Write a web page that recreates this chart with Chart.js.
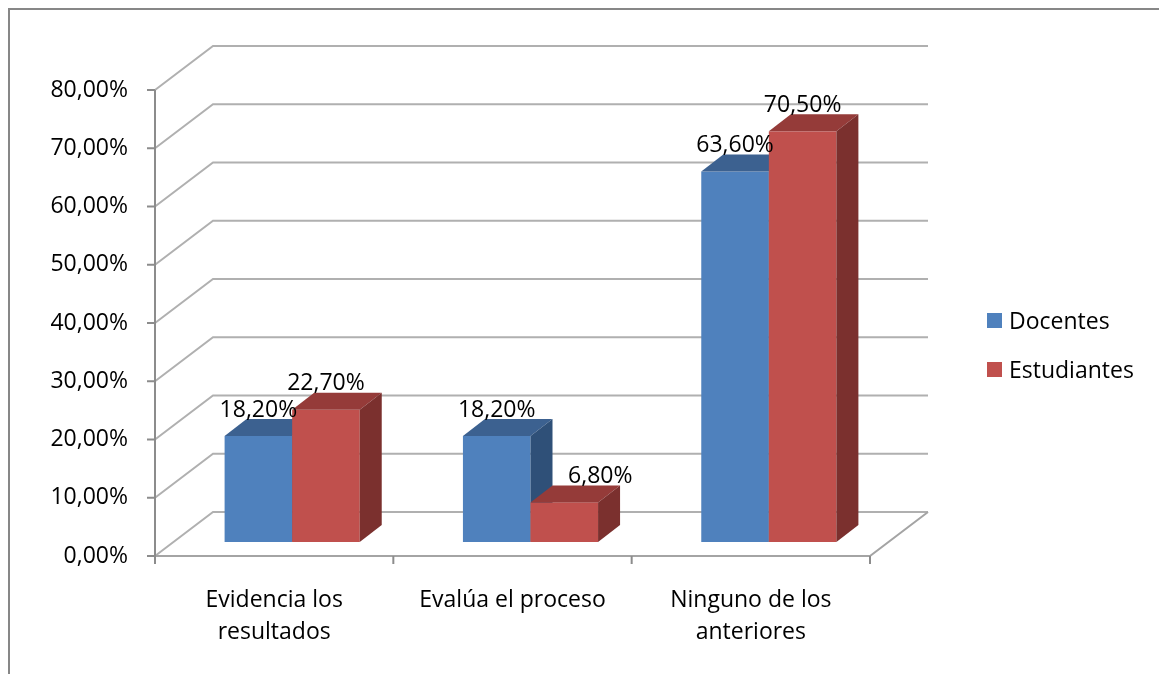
<!DOCTYPE html>
<html>
<head>
<meta charset="utf-8">
<script src="https://cdn.jsdelivr.net/npm/chart.js@4.4.1/dist/chart.umd.min.js"></script>
<style>
html, body { margin:0; padding:0; background:#fff; }
#wrap { position:relative; width:1159px; height:674px; overflow:hidden; }
#frame { position:absolute; left:8px; top:8px; width:1300px; height:800px; border-left:2px solid #878787; border-top:2px solid #878787; }
#chart { position:absolute; left:0; top:0; }
.leg { position:absolute; left:987px; height:32px; display:flex; align-items:center; font:23px "Open Sans"; color:#000; }
.leg span { display:inline-block; width:15px; height:15px; margin-right:7px; }
</style>
</head>
<body>
<div id="wrap">
	<div id="frame"></div>
	<canvas id="chart" width="1159" height="674"></canvas>
	<div id="legend"></div>
</div>
<script>
// datos del gráfico
var categorias = [ [ 'Evidencia los', 'resultados' ], 'Evalúa el proceso', [ 'Ninguno de los', 'anteriores' ] ];
var docentes = [ 18.2, 18.2, 63.6 ];
var estudiantes = [ 22.7, 6.8, 70.5 ];
var series = [ 'Docentes', 'Estudiantes' ];

// colores de las caras (frente, arriba, lado)
var caras = [
	{ front : '#4F81BD', top : '#3C6190', side : '#2F5078' },
	{ front : '#C0504D', top : '#953B39', side : '#7B302E' }
];

var WALL_DX = 58, WALL_DY = -44;   // fondo del gráfico 3D
var BAR_OFF_X = 18, BAR_OFF_Y = -14; // posición de las barras en profundidad
var BAR_DX = 22, BAR_DY = -17;     // profundidad de cada barra
var LABEL_SHIFT = [ [ 0, 0, 0 ], [ 0, 36, 0 ] ];

function fmt(v) {
	return v.toFixed(2).replace('.', ',') + '%';
}

var tresD = {
	id : 'tresD',
	beforeDatasetsDraw : function(chart) {
		var ctx = chart.ctx, a = chart.chartArea, ys = chart.scales.y;
		var y0 = ys.getPixelForValue(0);
		ctx.save();
		ctx.lineWidth = 2;
		ctx.strokeStyle = '#b0b0b0';
		ys.ticks.forEach(function(t) {
			var y = ys.getPixelForValue(t.value);
			ctx.beginPath();
			ctx.moveTo(a.left, y);
			ctx.lineTo(a.left + WALL_DX, y + WALL_DY);
			ctx.lineTo(a.right + WALL_DX, y + WALL_DY);
			ctx.stroke();
		});
		// piso
		ctx.strokeStyle = '#a4a4a4';
		ctx.beginPath();
		ctx.moveTo(a.left, y0);
		ctx.lineTo(a.right, y0);
		ctx.lineTo(a.right + WALL_DX, y0 + WALL_DY);
		ctx.stroke();
		// eje vertical y marcas
		ctx.strokeStyle = '#8c8c8c';
		ctx.beginPath();
		ctx.moveTo(a.left, a.top);
		ctx.lineTo(a.left, y0);
		ys.ticks.forEach(function(t) {
			var y = ys.getPixelForValue(t.value);
			ctx.moveTo(a.left - 8, y);
			ctx.lineTo(a.left, y);
		});
		var n = categorias.length;
		for (var i = 0; i <= n; i++) {
			var x = a.left + (a.right - a.left) * i / n;
			ctx.moveTo(x, y0);
			ctx.lineTo(x, y0 + 8);
		}
		ctx.stroke();
		ctx.restore();
	},
	beforeDatasetDraw : function() {
		return false;
	},
	afterDatasetsDraw : function(chart) {
		var ctx = chart.ctx;
		ctx.save();
		chart.data.datasets.forEach(function(ds, d) {
			var c = caras[d];
			chart.getDatasetMeta(d).data.forEach(function(el) {
				var x1 = el.x - el.width / 2 + BAR_OFF_X, x2 = el.x + el.width / 2 + BAR_OFF_X;
				var yt = el.y + BAR_OFF_Y, yb = el.base + BAR_OFF_Y;
				ctx.fillStyle = c.front;
				ctx.fillRect(x1, yt, x2 - x1, yb - yt);
				ctx.fillStyle = c.top;
				ctx.beginPath();
				ctx.moveTo(x1, yt);
				ctx.lineTo(x1 + BAR_DX, yt + BAR_DY);
				ctx.lineTo(x2 + BAR_DX, yt + BAR_DY);
				ctx.lineTo(x2, yt);
				ctx.closePath();
				ctx.fill();
				ctx.fillStyle = c.side;
				ctx.beginPath();
				ctx.moveTo(x2, yt);
				ctx.lineTo(x2 + BAR_DX, yt + BAR_DY);
				ctx.lineTo(x2 + BAR_DX, yb + BAR_DY);
				ctx.lineTo(x2, yb);
				ctx.closePath();
				ctx.fill();
			});
		});
		// etiquetas de datos
		ctx.font = '23px "Open Sans"';
		ctx.fillStyle = '#000';
		ctx.textAlign = 'center';
		ctx.textBaseline = 'middle';
		chart.data.datasets.forEach(function(ds, d) {
			chart.getDatasetMeta(d).data.forEach(function(el, i) {
				ctx.fillText(fmt(ds.data[i]), el.x + BAR_OFF_X + LABEL_SHIFT[d][i], el.y + BAR_OFF_Y - 26);
			});
		});
		ctx.restore();
	}
};

var ctx = document.getElementById('chart').getContext('2d');
var chart = new Chart(ctx, {
	type : 'bar',
	data : {
		labels : categorias,
		datasets : [ {
			label : series[0],
			data : docentes,
			backgroundColor : caras[0].front
		}, {
			label : series[1],
			data : estudiantes,
			backgroundColor : caras[1].front
		} ]
	},
	options : {
		responsive : false,
		animation : false,
		devicePixelRatio : 1,
		categoryPercentage : 0.567,
		barPercentage : 1,
		layout : {
			padding : { left : 0, top : 90, right : 289, bottom : 0 }
		},
		plugins : {
			legend : { display : false },
			tooltip : { enabled : false }
		},
		scales : {
			x : {
				grid : { display : false, drawTicks : false },
				border : { display : false },
				ticks : {
					color : '#000',
					padding : 28,
					font : { family : 'Open Sans', size : 23, lineHeight : 1.4 }
				},
				afterFit : function(s) { s.height = 118; }
			},
			y : {
				min : 0,
				max : 80,
				grid : { display : false, drawTicks : false },
				border : { display : false },
				ticks : {
					stepSize : 10,
					color : '#000',
					padding : 27,
					font : { family : 'Open Sans', size : 23 },
					callback : function(v) { return fmt(v); }
				},
				afterFit : function(s) { s.width = 155; }
			}
		}
	},
	plugins : [ tresD ]
});

// leyenda
var leg = document.getElementById('legend');
series.forEach(function(name, i) {
	var div = document.createElement('div');
	div.className = 'leg';
	div.style.top = (304 + i * 49) + 'px';
	div.innerHTML = '<span style="background:' + caras[i].front + '"></span>' + name;
	leg.appendChild(div);
});
</script>
</body>
</html>
